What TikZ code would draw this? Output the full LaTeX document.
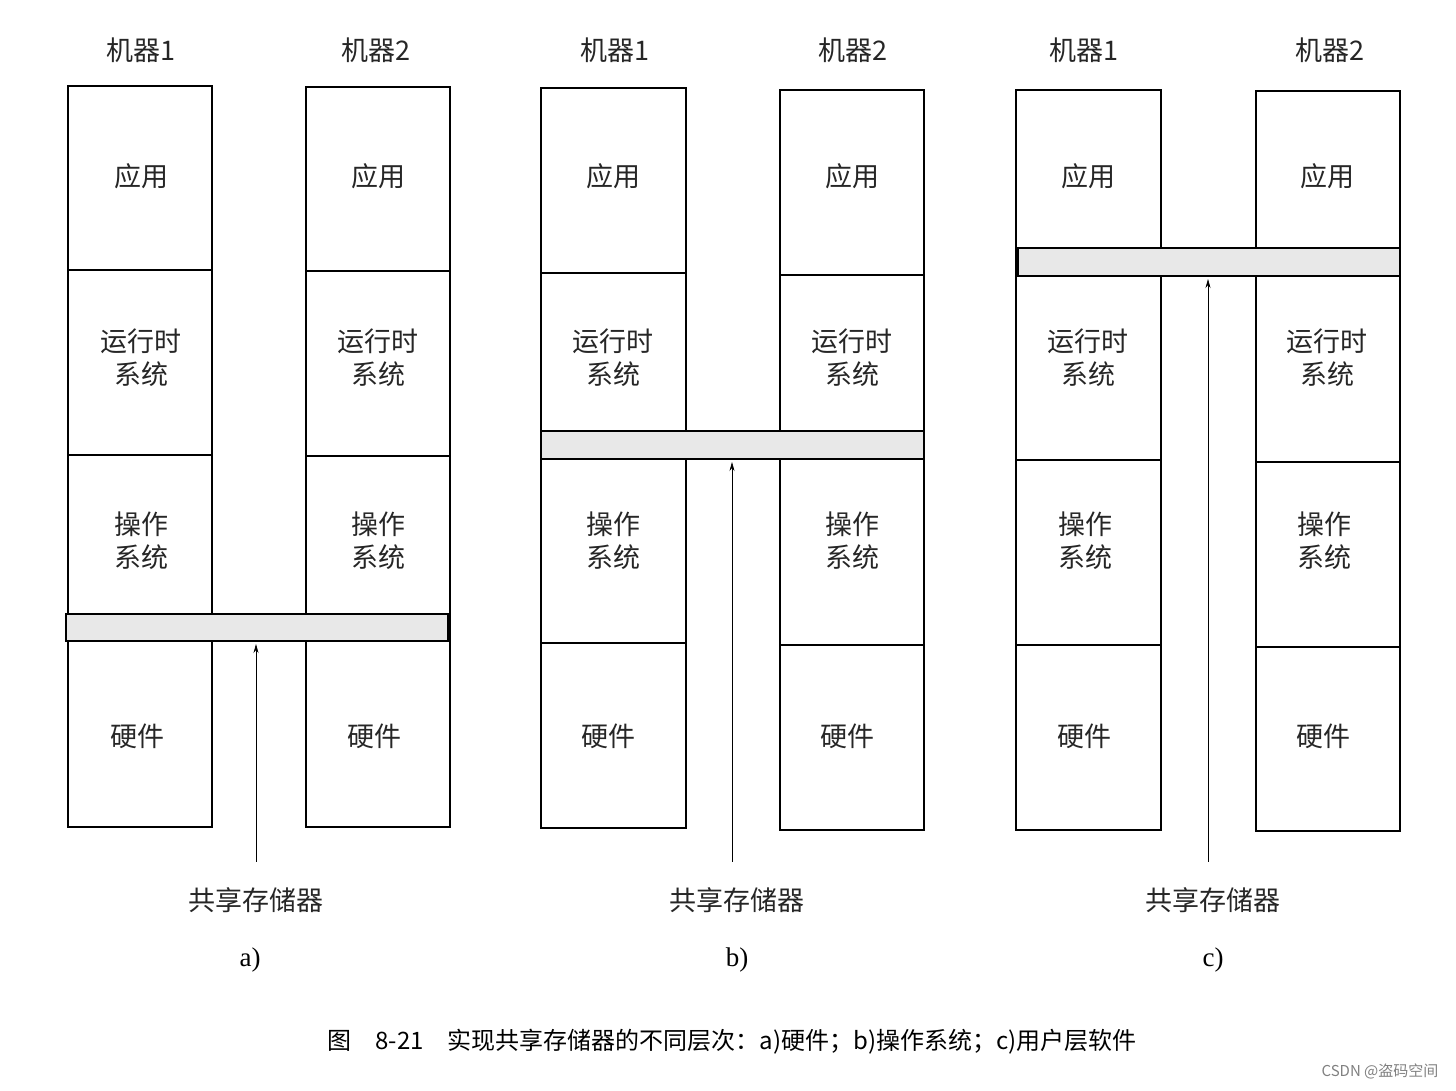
\documentclass[tikz,border=0pt]{standalone}
\usepackage{fontspec}
\usetikzlibrary{arrows.meta}
\setmainfont{Liberation Serif}
\newfontfamily\cjk{Noto Sans CJK SC}
\begin{document}
\begin{tikzpicture}[x=1pt,y=-1pt,
  box/.style={draw,line width=1.2pt},
  bar/.style={draw,line width=1.2pt,fill=gray!18},
  lbl/.style={font=\cjk\fontsize{27}{33}\selectfont,align=center,text=black!85},
  sublbl/.style={font=\fontsize{27}{30}\selectfont},
  arr/.style={-{Stealth[length=9pt,width=5pt]},line width=0.7pt}]
\useasboundingbox (0,0) rectangle (1456,1090);
% ---------- panel a
\draw[box] (68,86) rectangle (212,827);
\draw[box] (68,270)--(212,270) (68,455)--(212,455);
\draw[box] (306,87) rectangle (450,827);
\draw[box] (306,271)--(450,271) (306,456)--(450,456);
\draw[bar] (66,614) rectangle (448,641);
\node[lbl] (a1) at (141,50) {机器1};
\node[lbl] (a2) at (376,50) {机器2};
\foreach \x in {141,378}{
 \node[lbl] at (\x,176) {应用};
 \node[lbl] at (\x,358) {运行时\\系统};
 \node[lbl] at (\x,541) {操作\\系统};
 \node[lbl] at (\x-4,736) {硬件};}
\coordinate (ta) at (256,644);
\node[lbl] (sa) at (256,900) {共享存储器};
\draw[arr] (sa.north) ++(0,-22) coordinate (fa) -- (ta);
\node[sublbl] (pa) at (250,960) {a)};
% ---------- panel b
\draw[box] (541,88) rectangle (686,828);
\draw[box] (541,273)--(686,273) (541,643)--(686,643);
\draw[box] (780,90) rectangle (924,830);
\draw[box] (780,275)--(924,275) (780,645)--(924,645);
\draw[bar] (541,431) rectangle (924,459);
\node[lbl] (b1) at (615,50) {机器1};
\node[lbl] (b2) at (853,50) {机器2};
\foreach \x in {613,852}{
 \node[lbl] at (\x,176) {应用};
 \node[lbl] at (\x,358) {运行时\\系统};
 \node[lbl] at (\x,541) {操作\\系统};
 \node[lbl] at (\x-5,736) {硬件};}
\coordinate (tb) at (732,462);
\node[lbl] (sb) at (737,900) {共享存储器};
\draw[arr] (sb.north) ++(-5,-22) -- (tb);
\node[sublbl] (pb) at (737,960) {b)};
% ---------- panel c
\draw[box] (1016,90) rectangle (1161,830);
\draw[box] (1016,460)--(1161,460) (1016,645)--(1161,645);
\draw[box] (1256,91) rectangle (1400,831);
\draw[box] (1256,462)--(1400,462) (1256,647)--(1400,647);
\draw[bar] (1018,248) rectangle (1400,276);
\node[lbl] (c1) at (1084,50) {机器1};
\node[lbl] (c2) at (1330,50) {机器2};
\foreach \x in {1088,1327}{
 \node[lbl] at (\x,176) {应用};
 \node[lbl] at (\x,358) {运行时\\系统};
 \node[lbl] at (\x-3,541) {操作\\系统};
 \node[lbl] at (\x-4,736) {硬件};}
\coordinate (tc) at (1208,279);
\node[lbl] (sc) at (1213,900) {共享存储器};
\draw[arr] (sc.north) ++(-5,-22) -- (tc);
\node[sublbl] (pc) at (1213,960) {c)};
% ---------- caption
\node[font=\cjk\fontsize{24}{28}\selectfont] (capt) at (732,1042) {图\quad 8-21\quad 实现共享存储器的不同层次：a)硬件；b)操作系统；c)用户层软件};
\node[font=\cjk\fontsize{15}{18}\selectfont,text=gray] (wm) at (1380,1071) {CSDN @盗码空间};
\end{tikzpicture}
\end{document}
